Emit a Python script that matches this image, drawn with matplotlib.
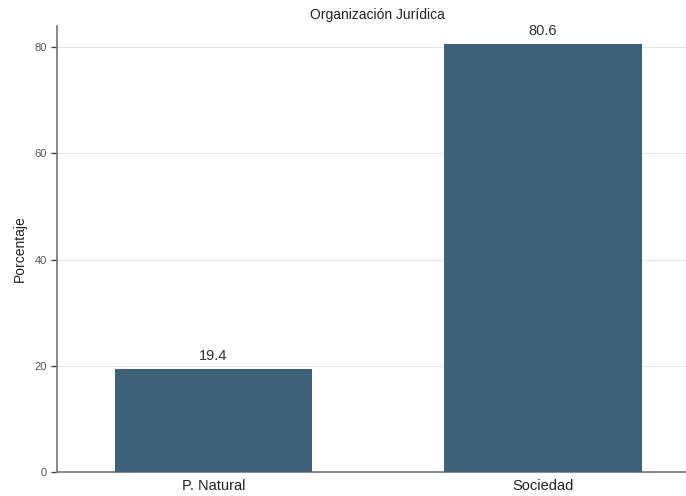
import matplotlib
matplotlib.use("Agg")
import matplotlib.pyplot as plt

categories = ["P. Natural", "Sociedad"]
values = [19.4, 80.6]
yticks = [0, 20, 40, 60, 80]
title = "Organización Jurídica"
ylabel = "Porcentaje"

plt.rcParams['font.family'] = ['Liberation Sans', 'DejaVu Sans']

fig = plt.figure(figsize=(6.86, 4.96), dpi=100)
ax = fig.add_axes([57/686, 24/496, 1 - 57/686, (472-26)/496])

x = list(range(len(categories)))
bars = ax.bar(x, values, width=0.6, color="#3e6079", zorder=3)
for xi, v in zip(x, values):
    ax.text(xi, v + 1.2, f"{v:.1f}", ha="center", va="bottom", fontsize=10.5, color="#333333")

ax.set_xlim(-0.475, 1.434)
ax.set_ylim(0, 84)
ax.set_yticks(yticks)
ax.set_yticklabels([str(t) for t in yticks], fontsize=8, color="#555555")
ax.set_xticks(x)
ax.set_xticklabels(categories, fontsize=10.5, color="#222222")
ax.tick_params(axis="x", length=0, pad=5)
ax.tick_params(axis="y", length=4.5, width=1, color="#444444", pad=3)
ax.yaxis.grid(True, color="#e6e6e6", linewidth=0.8, zorder=0)
ax.set_axisbelow(True)
for s in ["top", "right"]:
    ax.spines[s].set_visible(False)
ax.spines["left"].set_color("#777777")
ax.spines["bottom"].set_color("#777777")
ax.spines["left"].set_linewidth(1.2)
ax.spines["bottom"].set_linewidth(1.2)
ax.set_ylabel(ylabel, fontsize=10, color="#222222")
ax.yaxis.set_label_coords(-30/629, 0.5)
fig.text(377.5/686, 1 - 15/496, title, ha="center", va="center", fontsize=10, color="#222222")

fig.savefig("out.png", dpi=100, facecolor="white")
